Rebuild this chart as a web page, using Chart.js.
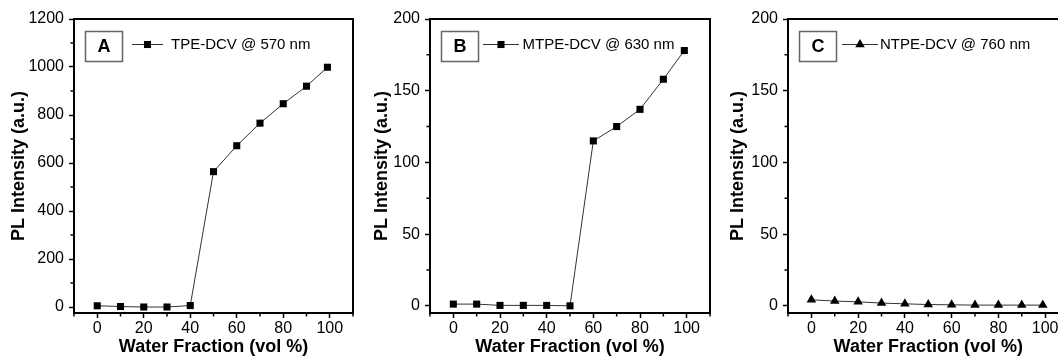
<!DOCTYPE html>
<html><head><meta charset="utf-8">
<script src="https://cdn.jsdelivr.net/npm/chart.js@4.4.1/dist/chart.umd.min.js"></script>
<style>
html,body{margin:0;padding:0;background:#fff;overflow:hidden;width:1058px;height:356px;position:relative;}
.p{position:absolute;top:0;width:360px;height:356px;}
canvas{display:block;}
</style></head><body>
<div class="p" style="left:0px"><canvas id="cA" width="360" height="356"></canvas></div>
<div class="p" style="left:356px"><canvas id="cB" width="360" height="356"></canvas></div>
<div class="p" style="left:714px"><canvas id="cC" width="360" height="356"></canvas></div>
<script>
// ---- data ----
const waterFraction = [0, 10, 20, 30, 40, 50, 60, 70, 80, 90, 99];
const tpeDcv  = [5, 2, 0, 0, 6, 564, 672, 766, 847, 920, 999];
const mtpeDcv = [1.2, 1.2, 0.3, 0.3, 0.3, 0, 115, 125, 137, 158, 178];
const ntpeDcv = [4.2, 3.3, 2.8, 1.9, 1.4, 0.9, 0.7, 0.5, 0.5, 0.5, 0.5];
const seriesLabels = ['TPE-DCV @ 570 nm', 'MTPE-DCV @ 630 nm', 'NTPE-DCV @ 760 nm'];
const panelLetters = ['A', 'B', 'C'];
const xTicks = [0, 20, 40, 60, 80, 100];
const xMinorTicks = [-10, 10, 30, 50, 70, 90, 110];
const yTicksA = [0, 200, 400, 600, 800, 1000, 1200];
const yMinorA = [100, 300, 500, 700, 900, 1100];
const yTicksBC = [0, 50, 100, 150, 200];
const yMinorBC = [25, 75, 125, 175];
const xTitle = 'Water Fraction (vol %)';
const yTitle = 'PL Intensity (a.u.)';

const F = '"Liberation Sans", Arial, Helvetica, sans-serif';
Chart.defaults.font.family = F;
Chart.defaults.color = '#000';

const decor = {
  id: 'panelDecor',
  afterDraw(chart, args, o) {
    const {ctx, chartArea: a, scales} = chart;
    ctx.save();
    ctx.strokeStyle = '#000';
    ctx.lineWidth = 1.5;
    ctx.beginPath();
    o.xMinor.forEach(v => { const px = scales.x.getPixelForValue(v); ctx.moveTo(px, a.bottom); ctx.lineTo(px, a.bottom + 3.5); });
    o.yMinor.forEach(v => { const py = scales.y.getPixelForValue(v); ctx.moveTo(a.left - 3.5, py); ctx.lineTo(a.left, py); });
    ctx.stroke();
    // frame
    ctx.lineWidth = 2;
    ctx.strokeRect(a.left, a.top, a.right - a.left, a.bottom - a.top);
    // letter box
    ctx.strokeStyle = '#666';
    ctx.lineWidth = 1.5;
    ctx.strokeRect(a.left + 11.5, a.top + 12.5, 37, 30);
    ctx.fillStyle = '#000';
    ctx.font = 'bold 18px ' + F;
    ctx.textAlign = 'center';
    ctx.textBaseline = 'middle';
    ctx.fillText(o.letter, a.left + 30, a.top + 28);
    // legend entry
    const ds = chart.data.datasets[0];
    const ly = a.top + 25;
    ctx.strokeStyle = ds.borderColor;
    ctx.lineWidth = 1;
    ctx.beginPath();
    ctx.moveTo(a.left + o.lx0, ly + 0.5);
    ctx.lineTo(a.left + o.lx1, ly + 0.5);
    ctx.stroke();
    ctx.fillStyle = '#000';
    Chart.helpers.drawPoint(ctx, {pointStyle: ds.pointStyle, radius: ds.pointRadius, borderWidth: 0, rotation: 0},
      a.left + (o.lx0 + o.lx1) / 2, ly + 0.5);
    ctx.font = '15px ' + F;
    ctx.textAlign = 'left';
    ctx.textBaseline = 'middle';
    ctx.fillText(ds.label, a.left + o.tx, ly + 1);
    ctx.restore();
  }
};

function buildChart(id, c) {
  return new Chart(document.getElementById(id), {
    type: 'line',
    data: {
      datasets: [{
        label: c.label,
        data: waterFraction.map((x, i) => ({x: x, y: c.values[i]})),
        borderColor: '#333',
        borderWidth: 1,
        pointStyle: c.pointStyle,
        pointRadius: c.pointRadius,
        pointBackgroundColor: '#000',
        pointBorderColor: '#000',
        pointBorderWidth: 0,
        tension: 0,
        fill: false,
        clip: false
      }]
    },
    options: {
      responsive: false,
      animation: false,
      devicePixelRatio: 1,
      layout: {padding: {left: 0, top: 19, right: c.padRight, bottom: 0}},
      plugins: {
        legend: {display: false},
        tooltip: {enabled: false},
        panelDecor: {letter: c.letter, xMinor: xMinorTicks, yMinor: c.yMinor, lx0: c.lx0, lx1: c.lx1, tx: c.tx}
      },
      scales: {
        x: {
          type: 'linear', min: -10, max: 110,
          afterBuildTicks: s => { s.ticks = xTicks.map(v => ({value: v})); },
          afterFit: s => { s.height = 43; },
          ticks: {font: {size: 16}, color: '#000', padding: 1, maxRotation: 0, autoSkip: false, callback: v => String(v)},
          grid: {display: true, drawOnChartArea: false, drawTicks: true, tickLength: 5, tickWidth: 1.5, tickColor: '#000'},
          border: {display: false},
          title: {display: true, text: xTitle, color: '#000', font: {size: 18, weight: 'bold', lineHeight: 1.0}, padding: {top: 0, bottom: 0}}
        },
        y: {
          type: 'linear', min: c.yMin, max: c.yMax,
          afterBuildTicks: s => { s.ticks = c.yTicks.map(v => ({value: v})); },
          afterFit: s => { s.width = 74; },
          ticks: {font: {size: 16}, color: '#000', padding: 5, autoSkip: false, callback: v => String(v)},
          grid: {display: true, drawOnChartArea: false, drawTicks: true, tickLength: 5, tickWidth: 1.5, tickColor: '#000'},
          border: {display: false},
          title: {display: true, text: yTitle, color: '#000', font: {size: 18, weight: 'bold'}, padding: {top: c.yTitlePad, bottom: 0}}
        }
      }
    },
    plugins: [decor]
  });
}

buildChart('cA', {label: seriesLabels[0], letter: panelLetters[0], values: tpeDcv, pointStyle: 'rect', pointRadius: 5,
  yMin: -25, yMax: 1200, yTicks: yTicksA, yMinor: yMinorA, padRight: 7, yTitlePad: 8, lx0: 58, lx1: 89, tx: 97});
buildChart('cB', {label: seriesLabels[1], letter: panelLetters[1], values: mtpeDcv, pointStyle: 'rect', pointRadius: 5,
  yMin: -5, yMax: 200, yTicks: yTicksBC, yMinor: yMinorBC, padRight: 6, yTitlePad: 15, lx0: 53, lx1: 89, tx: 92.5});
buildChart('cC', {label: seriesLabels[2], letter: panelLetters[2], values: ntpeDcv, pointStyle: 'triangle', pointRadius: 5.5,
  yMin: -5, yMax: 200, yTicks: yTicksBC, yMinor: yMinorBC, padRight: 4, yTitlePad: 13, lx0: 54, lx1: 90, tx: 92});
</script>
</body></html>
